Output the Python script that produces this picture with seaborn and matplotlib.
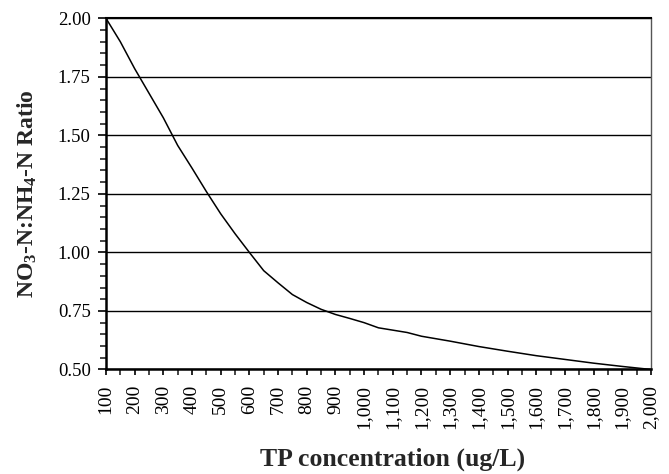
import matplotlib
matplotlib.use("Agg")
import matplotlib.pyplot as plt
import matplotlib.ticker as mticker
import seaborn as sns
import pandas as pd

tp_conc = [100, 150, 200, 250, 300, 350, 400, 450, 500, 550, 600, 650, 700, 750,
           800, 850, 900, 950, 1000, 1050, 1100, 1150, 1200, 1300, 1400, 1500,
           1600, 1700, 1800, 1900, 2000]
ratio = [2.00, 1.90, 1.785, 1.68, 1.575, 1.457, 1.36, 1.26, 1.165, 1.08, 1.00,
         0.922, 0.87, 0.82, 0.786, 0.757, 0.735, 0.718, 0.70, 0.678, 0.668,
         0.658, 0.642, 0.621, 0.598, 0.578, 0.559, 0.543, 0.527, 0.513, 0.50]
x_ticks = list(range(100, 2001, 100))
y_ticks = [0.50, 0.75, 1.00, 1.25, 1.50, 1.75, 2.00]

df = pd.DataFrame({"tp": tp_conc, "ratio": ratio})

sns.set_style("ticks")
plt.rcParams["font.family"] = ["Liberation Serif", "DejaVu Serif"]
plt.rcParams["mathtext.fontset"] = "custom"
plt.rcParams["mathtext.rm"] = "Liberation Serif:bold"
plt.rcParams["mathtext.it"] = "Liberation Serif:bold"
plt.rcParams["mathtext.bf"] = "Liberation Serif:bold"

fig = plt.figure(figsize=(6.69, 4.74), dpi=100)
ax = fig.add_axes([0.1584, 0.2205, 0.973 - 0.1584, 0.9614 - 0.2205])

for yv in y_ticks:
    ax.axhline(yv, color="black", linewidth=1.0, zorder=1)

sns.lineplot(data=df, x="tp", y="ratio", ax=ax, color="black", linewidth=1.1,
             zorder=3)

ax.set_xlim(100, 2000)
ax.set_ylim(0.5, 2.0)
ax.set_xticks(x_ticks)
ax.xaxis.set_major_formatter(mticker.FuncFormatter(lambda v, p: f"{int(v):,}"))
ax.xaxis.set_minor_locator(mticker.MultipleLocator(50))
ax.set_yticks(y_ticks)
ax.yaxis.set_major_formatter(mticker.FormatStrFormatter("%.2f"))
ax.yaxis.set_minor_locator(mticker.MultipleLocator(0.05))

ax.tick_params(axis="x", which="major", direction="out", length=4, width=1.2,
               labelsize=14, labelrotation=90, pad=7, colors="black")
ax.tick_params(axis="x", which="minor", direction="out", length=4, width=1.2)
ax.tick_params(axis="y", which="major", direction="out", length=6, width=1.2,
               labelsize=13.5, pad=5, colors="black")
ax.tick_params(axis="y", which="minor", direction="out", length=4, width=1.2)

for s in ["left", "bottom"]:
    ax.spines[s].set_linewidth(1.8)
    ax.spines[s].set_color("black")
ax.spines["top"].set_visible(True)
ax.spines["top"].set_linewidth(1.5)
ax.spines["top"].set_color("black")
ax.spines["right"].set_visible(True)
ax.spines["right"].set_linewidth(1.0)
ax.spines["right"].set_color("#555555")

ax.set_xlabel("TP concentration (ug/L)", fontsize=18.5, fontweight="bold")
ax.set_ylabel(r"NO$_3$-N:NH$_4$-N Ratio", fontsize=17, fontweight="bold")
ax.xaxis.set_label_coords(0.525, -0.2235)
ax.yaxis.set_label_coords(-0.123, 0.5)

fig.savefig("out.png", dpi=100)
